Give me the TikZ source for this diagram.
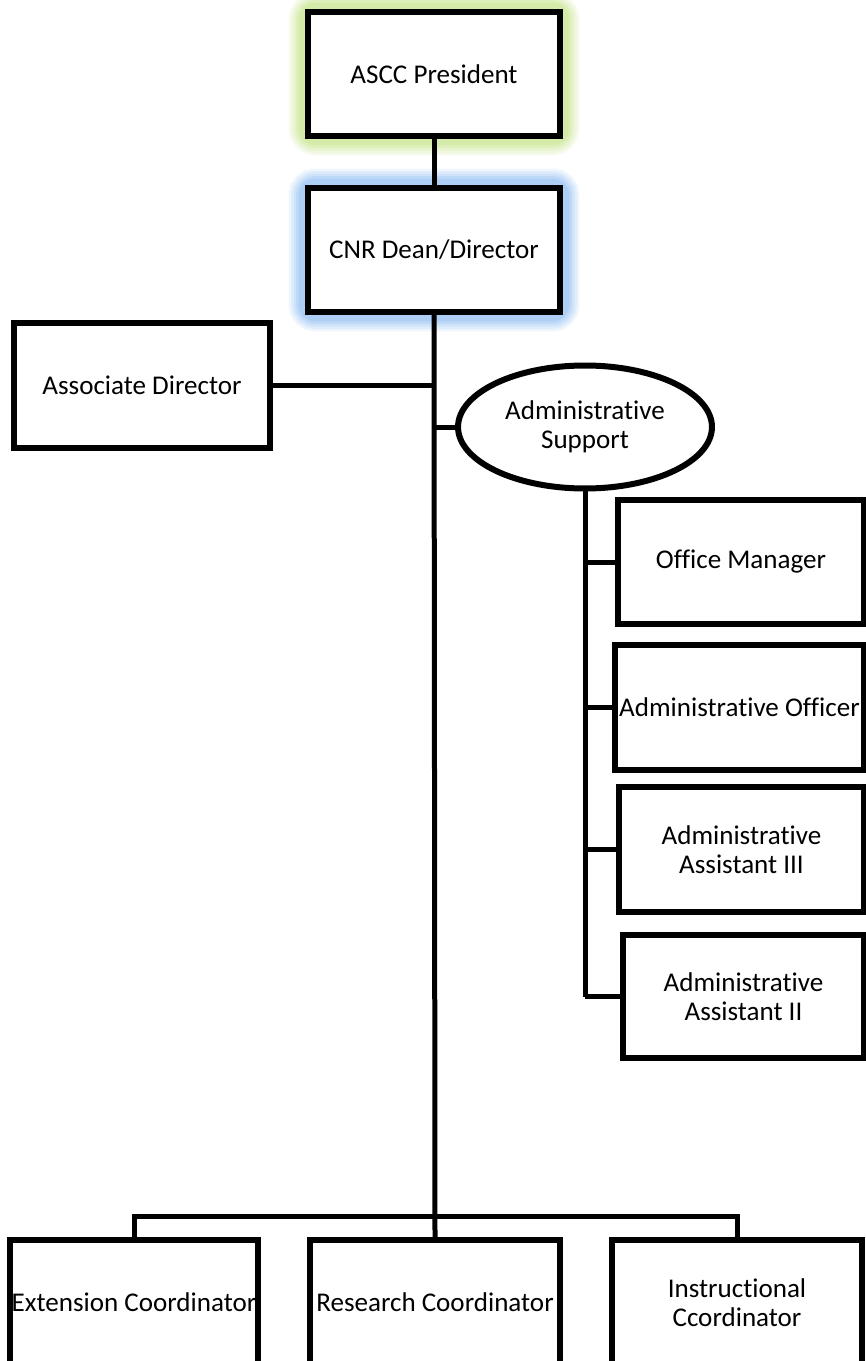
\documentclass[tikz,border=0pt]{standalone}
\usepackage{fontspec}
\setmainfont{Carlito}[Ligatures=NoCommon]
\usetikzlibrary{shapes.geometric}
\usetikzlibrary{backgrounds}
\definecolor{glowgreen}{rgb}{0.78, 0.90, 0.56}
\definecolor{glowblue}{rgb}{0.58, 0.75, 0.95}

\tikzset{
	unit/.style={draw, fill=white, line width=0.12cm, minimum height=2.48cm, align=center, inner sep=1pt, font=\fontsize{15.4}{16.2}\selectfont},
	link/.style={line width=0.1cm},
}

\begin{document}
\begin{tikzpicture}[x=0.02cm, y=-0.02cm]
	\useasboundingbox (0,0) rectangle (865,1361);

	% top of the chart
	\node[unit, minimum width=5.04cm] (pres) at (434,74) {ASCC President};
	\node[unit, minimum width=5.04cm] (dean) at (434,250) {CNR Dean/Director};
	\node[unit, minimum width=5.12cm, minimum height=2.5cm] (assoc) at (142,385.5) {Associate Director};
	\node[unit, ellipse, minimum width=5.08cm, minimum height=2.46cm, inner sep=0pt] (supp) at (585,427) {Administrative\\Support};

	% support staff
	\node[unit, minimum width=4.92cm] (office) at (741,562) {Office Manager};
	\node[unit, minimum width=4.98cm, minimum height=2.5cm] (officer) at (739.5,707.5) {Administrative Officer};
	\node[unit, minimum width=4.9cm, minimum height=2.5cm] (asstiii) at (741.5,849.5) {Administrative\\Assistant III};
	\node[unit, minimum width=4.82cm, minimum height=2.46cm] (asstii) at (743.5,996.5) {Administrative\\Assistant II};

	% coordinators
	\node[unit, minimum width=4.96cm, minimum height=2.5cm] (ext) at (134,1302.5) {Extension Coordinator};
	\node[unit, minimum width=5cm, minimum height=2.5cm] (res) at (435,1302.5) {Research Coordinator};
	\node[unit, minimum width=5cm, minimum height=2.5cm] (instr) at (737,1302.5) {Instructional\\Ccordinator};

	\coordinate (bar) at (435,1216);

	% glow round the two top boxes
	\begin{scope}[on background layer]
		\foreach \w/\o in {0.66/0.15, 0.56/0.18, 0.46/0.22, 0.36/0.28, 0.26/0.4} {
			\draw[glowgreen, line width=\w cm, opacity=\o, rounded corners=6pt] (pres.north west) rectangle (pres.south east);
			\draw[glowblue, line width=\w cm, opacity=\o, rounded corners=6pt] (dean.north west) rectangle (dean.south east);
		}
	\end{scope}

	% connectors
	\draw[link] (pres) -- (dean);
	\draw[link] (dean.south) -- (res.north);
	\draw[link] (assoc.east) -- (assoc.east -| dean.south);
	\draw[link] (supp.west) -- (supp.west -| dean.south);
	\draw[link] (supp.south) -- (supp.south |- asstii.west);
	\foreach \n in {office, officer, asstiii, asstii}
		\draw[link] (\n.west) -- (\n.west -| supp.south);
	\draw[link] (ext.north) |- (bar) -| (instr.north);

\end{tikzpicture}
\end{document}
